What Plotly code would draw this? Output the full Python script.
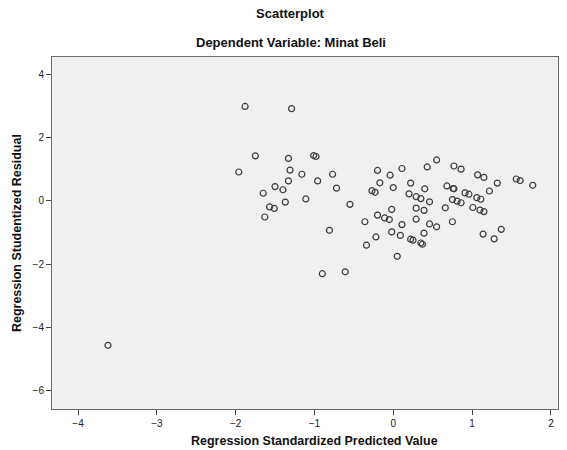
import plotly.graph_objects as go

# Regression Standardized Predicted Value
pred = [-1.88, -1.29, -1.75, -1.96, -1.33, -1.31, -1.16, -1.01, -0.98, -0.77,
        -0.96, -1.33, -1.50, -1.40, -1.65, -0.72, -1.37, -1.11, -1.57, -1.51,
        -1.63, -0.55, -0.81, -0.90, -0.61, -0.36, -0.34, -0.20, -0.17, -0.27,
        -0.23, -0.20, -0.22, -0.04, 0.11, 0.00, 0.22, 0.43, 0.55, 0.77,
        0.86, 1.07, 1.15, 1.32, 1.56, 1.61, 1.77, 1.22, 0.40, 0.20,
        0.29, 0.35, 0.46, 0.68, 0.76, 0.77, 0.91, 0.96, 0.75, 0.81,
        0.86, 1.06, 1.11, 0.66, 1.01, 1.10, 1.15, 0.29, 0.39, -0.02,
        -0.11, -0.05, 0.29, 0.11, 0.46, 0.55, 0.75, -0.02, 0.09, 0.39,
        0.22, 0.25, 0.35, 0.37, 1.14, 1.28, 1.37, 0.05, -3.62]

# Regression Studentized Residual
resid = [2.98, 2.91, 1.42, 0.91, 1.34, 0.97, 0.84, 1.43, 1.40, 0.84,
         0.63, 0.63, 0.45, 0.35, 0.24, 0.40, -0.04, 0.06, -0.19, -0.24,
         -0.51, -0.11, -0.93, -2.30, -2.24, -0.66, -1.40, 0.96, 0.57, 0.32,
         0.27, -0.45, -1.14, 0.81, 1.02, 0.42, 0.56, 1.07, 1.29, 1.10,
         1.00, 0.82, 0.74, 0.56, 0.69, 0.64, 0.49, 0.31, 0.38, 0.22,
         0.13, 0.07, -0.03, 0.47, 0.39, 0.38, 0.25, 0.21, 0.04, -0.01,
         -0.06, 0.10, 0.05, -0.22, -0.21, -0.29, -0.34, -0.23, -0.30, -0.27,
         -0.54, -0.59, -0.58, -0.75, -0.73, -0.82, -0.66, -0.98, -1.09, -1.02,
         -1.21, -1.24, -1.33, -1.37, -1.05, -1.20, -0.90, -1.75, -4.56]

x_ticks = [-4, -3, -2, -1, 0, 1, 2]
y_ticks = [-6, -4, -2, 0, 2, 4]

title_main = "Scatterplot"
title_sub = "Dependent Variable: Minat Beli"
x_title = "Regression Standardized Predicted Value"
y_title = "Regression Studentized Residual"

FONT = "Liberation Sans, Arial, sans-serif"

fig = go.Figure()
fig.add_trace(go.Scatter(
    x=pred, y=resid, mode="markers",
    marker=dict(symbol="circle-open", size=6, color="#3a3a3a",
                line=dict(width=1.2, color="#3a3a3a")),
    hoverinfo="x+y", showlegend=False,
))

axis_common = dict(
    showgrid=False, zeroline=False, showline=True, mirror=True,
    linecolor="#6b6b6b", linewidth=1,
    ticks="outside", ticklen=5, tickcolor="#444", tickwidth=1,
    tickfont=dict(family=FONT, size=10, color="#222"),
)

fig.update_layout(
    width=567, height=450,
    margin=dict(l=52, r=9, t=57, b=41),
    paper_bgcolor="white", plot_bgcolor="#f0f0f0",
    font=dict(family=FONT, color="#111"),
    xaxis=dict(range=[-4.33, 2.09], tickvals=x_ticks, **axis_common),
    yaxis=dict(range=[-6.57, 4.54], tickvals=y_ticks, **axis_common),
    annotations=[
        dict(text="<b>%s</b>" % title_main, xref="paper", yref="paper",
             x=0.472, y=1.125, xanchor="center", yanchor="middle",
             showarrow=False, font=dict(family=FONT, size=13, color="#111")),
        dict(text="<b>%s</b>" % title_sub, xref="paper", yref="paper",
             x=0.472, y=1.0426, xanchor="center", yanchor="middle",
             showarrow=False, font=dict(family=FONT, size=13, color="#111")),
        dict(text="<b>%s</b>" % x_title, xref="paper", yref="paper",
             x=0.518, y=-0.091, xanchor="center", yanchor="middle",
             showarrow=False, font=dict(family=FONT, size=12.5, color="#111")),
        dict(text="<b>%s</b>" % y_title, xref="paper", yref="paper",
             x=-0.069, y=0.5, xanchor="center", yanchor="middle", textangle=-90,
             showarrow=False, font=dict(family=FONT, size=12.5, color="#111")),
    ],
)

fig.write_html(
    "out.html",
    config={"displayModeBar": False},
    post_script="document.body.style.margin='0';document.body.style.overflow='hidden';",
)
